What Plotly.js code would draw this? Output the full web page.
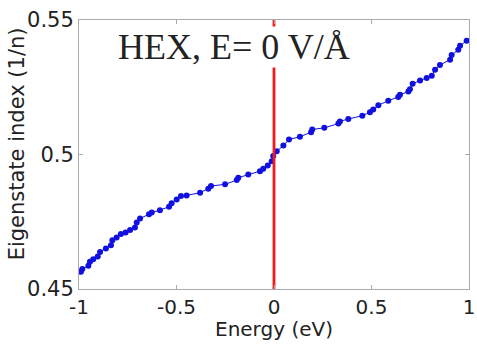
<!DOCTYPE html>
<html>
<head>
<meta charset="utf-8">
<script src="https://cdn.plot.ly/plotly-3.0.1.min.js"></script>
<style>html,body{margin:0;padding:0;background:#fff;}#chart{width:477px;height:345px;}</style>
</head>
<body>
<div id="chart"></div>
<script>
const energy = [-0.990,-0.983,-0.952,-0.944,-0.927,-0.904,-0.892,-0.862,-0.836,-0.829,-0.807,-0.785,-0.761,-0.738,-0.713,-0.704,-0.687,-0.641,-0.627,-0.585,-0.538,-0.525,-0.499,-0.477,-0.448,-0.379,-0.337,-0.323,-0.251,-0.191,-0.183,-0.132,-0.072,-0.055,-0.032,-0.012,-0.004,0.014,0.048,0.077,0.133,0.190,0.196,0.258,0.330,0.338,0.381,0.453,0.492,0.509,0.535,0.586,0.637,0.646,0.689,0.697,0.711,0.749,0.783,0.809,0.826,0.851,0.903,0.911,0.945,0.954,0.988];
const eigIndex = [0.4564,0.4574,0.4586,0.4601,0.4611,0.4621,0.4638,0.4651,0.4663,0.4681,0.4691,0.4704,0.4710,0.4719,0.4729,0.4747,0.4762,0.4778,0.4784,0.4793,0.4806,0.4819,0.4833,0.4846,0.4848,0.4858,0.4873,0.4883,0.4889,0.4905,0.4914,0.4926,0.4938,0.4947,0.4959,0.4975,0.4994,0.5012,0.5033,0.5056,0.5066,0.5083,0.5093,0.5099,0.5115,0.5123,0.5132,0.5144,0.5157,0.5167,0.5183,0.5200,0.5214,0.5222,0.5234,0.5243,0.5263,0.5275,0.5284,0.5293,0.5315,0.5333,0.5352,0.5370,0.5389,0.5404,0.5423];
const fermiX = [0, 0];
const fermiY = [0.45, 0.55];
const xTickVals = [-1, -0.5, 0, 0.5, 1];
const xTickText = ['-1', '-0.5', '0', '0.5', '1'];
const yTickVals = [0.45, 0.5, 0.55];
const yTickText = ['0.45', '0.5', '0.55'];

const axisFont = {family: 'DejaVu Sans, Arial, sans-serif', size: 21, color: '#222'};
const xTickFont = {family: 'DejaVu Sans, Arial, sans-serif', size: 20, color: '#222'};
const data = [
  {x: energy, y: eigIndex, mode: 'lines+markers', type: 'scatter',
   line: {color: '#1010e0', width: 1}, marker: {color: '#1010e0', size: 6}, hoverinfo: 'skip'},
  {x: fermiX, y: fermiY, mode: 'lines', type: 'scatter',
   line: {color: '#ee1c1c', width: 2.8}, hoverinfo: 'skip'}
];
const layout = {
  width: 477, height: 345,
  margin: {l: 79, r: 8, t: 20, b: 56},
  paper_bgcolor: '#fff', plot_bgcolor: '#fff',
  showlegend: false,
  font: axisFont,
  xaxis: {range: [-1, 1], tickvals: xTickVals, ticktext: xTickText,
    showgrid: false, zeroline: false, showline: true, mirror: 'ticks', linecolor: '#aaa', linewidth: 1,
    ticks: 'inside', ticklen: 4, tickcolor: '#aaa', tickfont: xTickFont, ticklabelstandoff: 0},
  yaxis: {range: [0.45, 0.55], tickvals: yTickVals, ticktext: yTickText,
    showgrid: false, zeroline: false, showline: true, mirror: 'ticks', linecolor: '#aaa', linewidth: 1,
    ticks: 'inside', ticklen: 4, tickcolor: '#aaa', tickfont: axisFont, ticklabelstandoff: 0},
  annotations: [
    {text: 'Eigenstate index (1/n)', xref: 'paper', yref: 'paper', x: -0.16, y: 0.54,
     xanchor: 'center', yanchor: 'middle', textangle: -90, showarrow: false, font: axisFont},
    {text: 'Energy (eV)', xref: 'paper', yref: 'paper', x: 0.5, y: -0.199,
     xanchor: 'center', yanchor: 'bottom', showarrow: false,
     font: {family: 'DejaVu Sans, Arial, sans-serif', size: 20, color: '#222'}},
    {text: 'HEX, E= 0 V/Å', xref: 'paper', yref: 'paper', x: 0.097, y: 0.9,
     xanchor: 'left', yanchor: 'middle', showarrow: false, bgcolor: '#fff', borderpad: 0,
     font: {family: 'Liberation Serif, Times New Roman, serif', size: 36, color: '#222'}}
  ]
};
Plotly.newPlot('chart', data, layout, {displayModeBar: false, staticPlot: true});
</script>
</body>
</html>
